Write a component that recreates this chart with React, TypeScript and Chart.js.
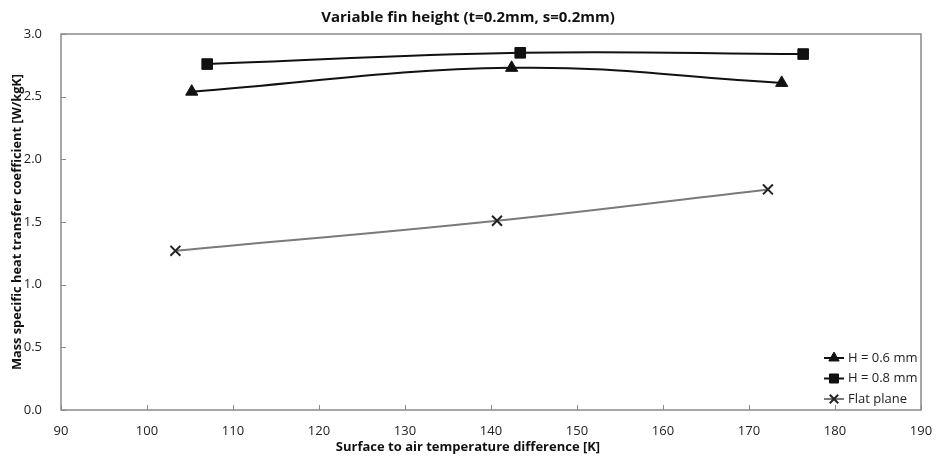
import React, { useEffect, useRef } from "react";
import { Chart, registerables } from "chart.js";

Chart.register(...registerables);

const h06X = [105.2, 142.4, 173.8];
const h06Y = [2.54, 2.73, 2.61];
const h08X = [107.0, 143.4, 176.3];
const h08Y = [2.76, 2.85, 2.84];
const flatX = [103.3, 140.7, 172.2];
const flatY = [1.27, 1.51, 1.76];
const seriesNames = ["H = 0.6 mm", "H = 0.8 mm", "Flat plane"];
const titleText = "Variable fin height (t=0.2mm, s=0.2mm)";
const xTitle = "Surface to air temperature difference [K]";
const yTitle = "Mass specific heat transfer coefficient [W/kgK]";

const FONT = "'Open Sans', Lato, sans-serif";
const AXIS = "#8a8a8a";

function marker(ctx: CanvasRenderingContext2D, style: string, r: number, x: number, y: number) {
  ctx.beginPath();
  if (style === "triangle") {
    ctx.moveTo(x, y - r);
    ctx.lineTo(x + r * 0.866, y + r * 0.5);
    ctx.lineTo(x - r * 0.866, y + r * 0.5);
    ctx.closePath();
    ctx.fill();
    ctx.stroke();
  } else if (style === "rect") {
    const s = r * Math.SQRT1_2;
    ctx.rect(x - s, y - s, 2 * s, 2 * s);
    ctx.fill();
    ctx.stroke();
  } else {
    const s = r * Math.SQRT1_2;
    ctx.moveTo(x - s, y - s);
    ctx.lineTo(x + s, y + s);
    ctx.moveTo(x + s, y - s);
    ctx.lineTo(x - s, y + s);
    ctx.stroke();
  }
}

const frame = {
  id: "frame",
  afterDatasetsDraw(chart: any) {
    const { ctx, chartArea: a, scales } = chart;
    ctx.save();
    ctx.strokeStyle = AXIS;
    ctx.lineWidth = 1.5;
    ctx.strokeRect(a.left, a.top, a.right - a.left, a.bottom - a.top);
    ctx.lineWidth = 1;
    ctx.beginPath();
    scales.x.ticks.forEach((t: any) => {
      const px = Math.round(scales.x.getPixelForValue(t.value)) + 0.5;
      ctx.moveTo(px, a.bottom);
      ctx.lineTo(px, a.bottom - 5);
    });
    scales.y.ticks.forEach((t: any) => {
      const py = Math.round(scales.y.getPixelForValue(t.value)) + 0.5;
      ctx.moveTo(a.left, py);
      ctx.lineTo(a.left + 5, py);
    });
    ctx.stroke();
    ctx.restore();
  },
  afterDraw(chart: any) {
    const { ctx, chartArea: a } = chart;
    ctx.save();
    // titles
    ctx.fillStyle = "#111";
    ctx.textAlign = "center";
    ctx.textBaseline = "middle";
    ctx.font = `bold 15px ${FONT}`;
    ctx.fillText(titleText, 468, 18);
    ctx.font = `bold 13px ${FONT}`;
    ctx.fillText(xTitle, 468, 447);
    // legend
    const rowH = 20.5;
    const baseY = a.bottom - 52;
    const textX = a.right - 73;
    chart.data.datasets.forEach((ds: any, i: number) => {
      const y = baseY + i * rowH;
      ctx.strokeStyle = ds.borderColor;
      ctx.lineWidth = ds.borderWidth;
      ctx.beginPath();
      ctx.moveTo(textX - 24, y);
      ctx.lineTo(textX - 4, y);
      ctx.stroke();
      ctx.fillStyle = ds.pointBackgroundColor;
      ctx.strokeStyle = ds.pointBorderColor;
      ctx.lineWidth = ds.pointBorderWidth;
      marker(ctx, ds.pointStyle, ds.pointRadius * 0.85, textX - 14, y);
      ctx.fillStyle = "#222";
      ctx.font = `13px ${FONT}`;
      ctx.textBaseline = "middle";
      ctx.textAlign = "left";
      ctx.fillText(ds.label, textX, y);
    });
    ctx.restore();
  },
};

export default function App() {
  const ref = useRef<HTMLCanvasElement>(null);
  useEffect(() => {
    const toPts = (xs: number[], ys: number[]) => xs.map((x, i) => ({ x, y: ys[i] }));
    const chart = new Chart(ref.current!, {
      type: "scatter",
      data: {
        datasets: [
          {
            label: seriesNames[0],
            data: toPts(h06X, h06Y),
            showLine: true,
            borderColor: "#111",
            borderWidth: 2,
            tension: 0.4,
            pointStyle: "triangle",
            pointRadius: 7,
            pointBackgroundColor: "#111",
            pointBorderColor: "#111",
            pointBorderWidth: 1,
          },
          {
            label: seriesNames[1],
            data: toPts(h08X, h08Y),
            showLine: true,
            borderColor: "#111",
            borderWidth: 2,
            tension: 0.4,
            pointStyle: "rect",
            pointRadius: 7.5,
            pointBackgroundColor: "#111",
            pointBorderColor: "#111",
            pointBorderWidth: 1,
          },
          {
            label: seriesNames[2],
            data: toPts(flatX, flatY),
            showLine: true,
            borderColor: "#7a7a7a",
            borderWidth: 2,
            tension: 0.4,
            pointStyle: "crossRot",
            pointRadius: 7,
            pointBackgroundColor: "#222",
            pointBorderColor: "#222",
            pointBorderWidth: 2,
          },
        ],
      } as any,
      options: {
        animation: false,
        responsive: false,
        layout: { padding: { left: 0, right: 17, top: 34, bottom: 0 } },
        plugins: {
          legend: { display: false },
          tooltip: { enabled: false },
          title: { display: false },
        },
        scales: {
          x: {
            type: "linear",
            min: 90,
            max: 190,
            ticks: { stepSize: 10, color: "#222", font: { family: FONT, size: 13 }, padding: 5 },
            grid: { display: false },
            border: { display: false },
            title: { display: false, text: xTitle },
            afterFit: (s: any) => {
              s.height = 54;
            },
          },
          y: {
            type: "linear",
            min: 0,
            max: 3,
            ticks: {
              stepSize: 0.5,
              color: "#222",
              font: { family: FONT, size: 13 },
              padding: 11,
              callback: (v: any) => Number(v).toFixed(1),
            },
            grid: { display: false },
            border: { display: false },
            title: {
              display: true,
              text: yTitle,
              color: "#111",
              font: { family: FONT, size: 12.8, weight: "bold" },
              padding: { top: 10, bottom: 4 },
            },
            afterFit: (s: any) => {
              s.width = 61;
            },
          },
        },
      } as any,
      plugins: [frame],
    });
    return () => chart.destroy();
  }, []);
  return (
    <div style={{ position: "fixed", left: 0, top: 0, width: 938, height: 464, background: "#fff" }}>
      <canvas ref={ref} width={938} height={464} style={{ display: "block" }} />
    </div>
  );
}
